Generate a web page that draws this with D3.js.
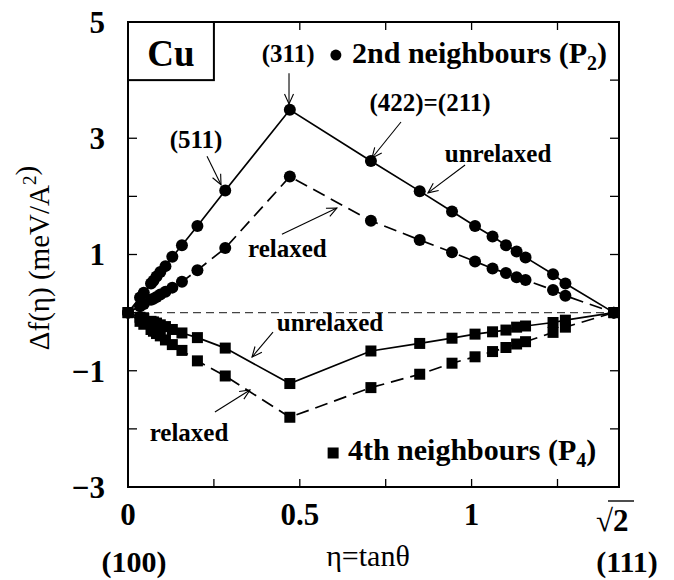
<!DOCTYPE html>
<html>
<head>
<meta charset="utf-8">
<script src="https://cdn.jsdelivr.net/npm/d3@7"></script>
<style>
  html, body { margin: 0; padding: 0; background: #fff; }
  svg { display: block; }
  text { font-family: "Liberation Serif", "Times New Roman", Times, serif; fill: #000; }
</style>
</head>
<body>
<svg id="chart" width="674" height="580"></svg>
<script>
// ---------- data ----------
// eta = tan(theta), from (100) to (111)
const eta = [0, 0.035, 0.046, 0.067, 0.074, 0.083, 0.094, 0.109, 0.129, 0.157, 0.202, 0.283,
             0.471, 0.707, 0.849, 0.943, 1.010, 1.061, 1.100, 1.131, 1.157, 1.237, 1.273, 1.414];
// 2nd neighbours (P2)
const p2Unrelaxed = [0, 0.26, 0.34, 0.50, 0.55, 0.62, 0.70, 0.80, 0.96, 1.16, 1.49, 2.10,
                     3.49, 2.61, 2.09, 1.74, 1.49, 1.31, 1.16, 1.05, 0.95, 0.66, 0.50, 0];
const p2Relaxed   = [0, 0.11, 0.15, 0.22, 0.24, 0.27, 0.31, 0.36, 0.43, 0.53, 0.73, 1.11,
                     2.34, 1.58, 1.25, 1.04, 0.88, 0.76, 0.68, 0.61, 0.56, 0.39, 0.29, 0];
// 4th neighbours (P4)
const p4Unrelaxed = [0, -0.08, -0.10, -0.15, -0.16, -0.18, -0.21, -0.24, -0.29, -0.35, -0.43, -0.61,
                     -1.22, -0.66, -0.53, -0.44, -0.37, -0.33, -0.30, -0.25, -0.23, -0.17, -0.13, 0];
const p4Relaxed   = [0, -0.15, -0.20, -0.29, -0.32, -0.36, -0.40, -0.47, -0.55, -0.65, -0.83, -1.09,
                     -1.80, -1.29, -1.06, -0.87, -0.76, -0.67, -0.60, -0.54, -0.50, -0.34, -0.25, 0];

const xTickValues = [0, 0.25, 0.5, 0.75, 1, 1.25];
const xTickLabels = [[0, "0"], [0.5, "0.5"], [1, "1"]];
const yTickValues = [-3, -2, -1, 0, 1, 2, 3, 4, 5];
const yTickLabels = [5, 3, 1, -1, -3];
const xDomain = [0, 1.429];
const yDomain = [-3, 5];

// ---------- layout ----------
const svg = d3.select("#chart");
const L = 128, R = 619, T = 22, B = 487;
const x = d3.scaleLinear().domain(xDomain).range([L, R]);
const y = d3.scaleLinear().domain(yDomain).range([B, T]);

const defs = svg.append("defs");
defs.append("marker")
  .attr("id", "arr").attr("viewBox", "-12 -6 14 12")
  .attr("refX", 0).attr("refY", 0)
  .attr("markerWidth", 14).attr("markerHeight", 12)
  .attr("markerUnits", "userSpaceOnUse").attr("orient", "auto")
  .append("path").attr("d", "M-10,-4.5 L0,0 L-10,4.5")
  .attr("fill", "none").attr("stroke", "#000").attr("stroke-width", 1.1);

// zero reference line
svg.append("line")
  .attr("x1", x(0)).attr("x2", x(1.414)).attr("y1", y(0)).attr("y2", y(0))
  .attr("stroke", "#444").attr("stroke-width", 1.4).attr("stroke-dasharray", "8,5");

// ---------- lines ----------
const pts = arr => eta.map((e, i) => [e, arr[i]]);
const line = d3.line().x(d => x(d[0])).y(d => y(d[1]));
const series = [
  { v: p2Unrelaxed, dash: null, shape: "circle" },
  { v: p2Relaxed, dash: "13,7", shape: "circle" },
  { v: p4Unrelaxed, dash: null, shape: "square" },
  { v: p4Relaxed, dash: "13,7", shape: "square" }
];
series.forEach(s => {
  svg.append("path").datum(pts(s.v)).attr("d", line)
    .attr("fill", "none").attr("stroke", "#000").attr("stroke-width", 1.7)
    .attr("stroke-dasharray", s.dash);
});
// squares first, then circles on top
series.filter(s => s.shape === "square").forEach(s => {
  svg.append("g").selectAll("rect").data(pts(s.v)).join("rect")
    .attr("x", d => x(d[0]) - 5.5).attr("y", d => y(d[1]) - 5.5)
    .attr("width", 11).attr("height", 11).attr("fill", "#000");
});
series.filter(s => s.shape === "circle").forEach(s => {
  svg.append("g").selectAll("circle").data(pts(s.v)).join("circle")
    .attr("cx", d => x(d[0])).attr("cy", d => y(d[1])).attr("r", 6).attr("fill", "#000");
});

// ---------- frame and ticks ----------
svg.append("rect").attr("x", L).attr("y", T).attr("width", R - L).attr("height", B - T)
  .attr("fill", "none").attr("stroke", "#000").attr("stroke-width", 2);

const tk = svg.append("g").attr("stroke", "#000").attr("stroke-width", 1.3);
xTickValues.forEach(v => {
  tk.append("line").attr("x1", x(v)).attr("x2", x(v)).attr("y1", B).attr("y2", B - 8);
  tk.append("line").attr("x1", x(v)).attr("x2", x(v)).attr("y1", T).attr("y2", T + 8);
});
yTickValues.forEach(v => {
  tk.append("line").attr("x1", L).attr("x2", L + 9).attr("y1", y(v)).attr("y2", y(v));
  tk.append("line").attr("x1", R).attr("x2", R - 9).attr("y1", y(v)).attr("y2", y(v));
});

// tick labels
yTickLabels.forEach(v => {
  svg.append("text").attr("x", 105).attr("y", y(v)).attr("dy", "0.35em")
    .attr("text-anchor", "end").attr("font-size", 31).attr("font-weight", "bold")
    .text(v < 0 ? "\u2212" + Math.abs(v) : String(v));
});
xTickLabels.forEach(([v, t]) => {
  svg.append("text").attr("x", x(v)).attr("y", 525).attr("text-anchor", "middle")
    .attr("font-size", 31).attr("font-weight", "bold").text(t);
});
// sqrt(2) label, as one text
const sqt = svg.append("text").attr("x", 596).attr("y", 531).attr("font-size", 31);
sqt.append("tspan").text("\u221A");
sqt.append("tspan").attr("font-weight", "bold").text("2");
svg.append("line").attr("x1", 608).attr("x2", 634)
  .attr("y1", 501).attr("y2", 501).attr("stroke", "#000").attr("stroke-width", 1.4);

svg.append("text").attr("x", 134).attr("y", 572).attr("text-anchor", "middle")
  .attr("font-size", 30).attr("font-weight", "bold").text("(100)");
svg.append("text").attr("x", 627).attr("y", 572).attr("text-anchor", "middle")
  .attr("font-size", 30).attr("font-weight", "bold").text("(111)");
svg.append("text").attr("x", 368).attr("y", 566).attr("text-anchor", "middle")
  .attr("font-size", 30).text("\u03B7=tan\u03B8");

// y axis label
const yl = svg.append("text").attr("transform", "translate(49,258) rotate(-90)")
  .attr("text-anchor", "middle").attr("font-size", 29);
yl.append("tspan").text("\u0394f(\u03B7) (meV/A");
yl.append("tspan").attr("font-size", 19).attr("dy", -13).text("2");
yl.append("tspan").attr("dy", 0).text(")");

// ---------- Cu box ----------
svg.append("rect").attr("x", x(0)).attr("y", y(5)).attr("width", x(0.25) - x(0))
  .attr("height", y(4) - y(5)).attr("fill", "#fff").attr("stroke", "#000").attr("stroke-width", 2);
svg.append("text").attr("x", x(0.125)).attr("y", y(4.24)).attr("text-anchor", "middle")
  .attr("font-size", 37).attr("font-weight", "bold").text("Cu");

// ---------- annotations (data coordinates) ----------
const notes = [
  { t: "(311)", at: [0.466, 4.31], from: [0.4686, 4.12], to: [0.4686, 3.59] },
  { t: "(511)", at: [0.198, 2.83], from: [0.230, 2.69], to: [0.2707, 2.20] },
  { t: "(422)=(211)", at: [0.879, 3.467], from: [0.7945, 3.28], to: [0.710, 2.66] },
  { t: "unrelaxed", at: [1.077, 2.591], from: [0.981, 2.54], to: [0.873, 2.06] },
  { t: "relaxed", at: [0.464, 0.957], from: [0.448, 1.35], to: [0.608, 1.80] },
  { t: "unrelaxed", at: [0.588, -0.317], from: [0.422, -0.334], to: [0.361, -0.764] },
  { t: "relaxed", at: [0.1775, -2.209], from: [0.253, -1.71], to: [0.355, -1.332] }
];
notes.forEach(n => {
  svg.append("text").attr("x", x(n.at[0])).attr("y", y(n.at[1])).attr("text-anchor", "middle")
    .attr("font-size", 25).attr("font-weight", "bold").text(n.t);
  svg.append("line").attr("x1", x(n.from[0])).attr("y1", y(n.from[1]))
    .attr("x2", x(n.to[0])).attr("y2", y(n.to[1]))
    .attr("stroke", "#000").attr("stroke-width", 1.1).attr("marker-end", "url(#arr)");
});

// ---------- legends ----------
svg.append("circle").attr("cx", x(0.605)).attr("cy", y(4.432)).attr("r", 5.5).attr("fill", "#000");
const lg1 = svg.append("text").attr("x", x(0.652)).attr("y", y(4.294))
  .attr("font-size", 30).attr("font-weight", "bold");
lg1.append("tspan").text("2nd neighbours (P");
lg1.append("tspan").attr("font-size", 20).attr("dy", 7).text("2");
lg1.append("tspan").attr("dy", -7).text(")");

svg.append("rect").attr("x", x(0.597) - 5.5).attr("y", y(-2.415) - 5.5)
  .attr("width", 11).attr("height", 11).attr("fill", "#000");
const lg2 = svg.append("text").attr("x", x(0.640)).attr("y", y(-2.536))
  .attr("font-size", 30).attr("font-weight", "bold");
lg2.append("tspan").text("4th neighbours (P");
lg2.append("tspan").attr("font-size", 20).attr("dy", 7).text("4");
lg2.append("tspan").attr("dy", -7).text(")");
</script>
</body>
</html>
